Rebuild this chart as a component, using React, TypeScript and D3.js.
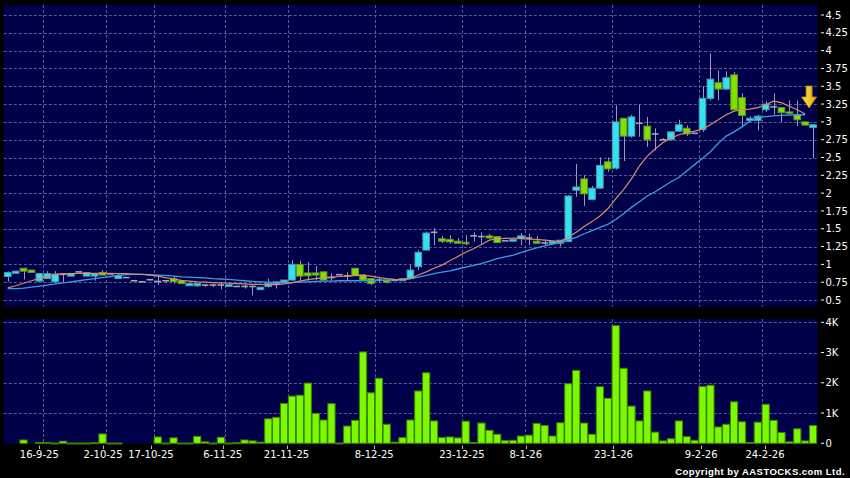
import React, { useEffect, useRef } from 'react';
import * as d3 from 'd3';

const W = 850;
const H = 478;

// OHLC per trading bar
const opens = [0.83,0.875,0.945,0.92,0.765,0.80,0.755,0.86,0.835,0.895,0.835,0.835,0.887,0.865,0.80,0.815,0.77,0.755,0.785,0.76,0.77,0.80,0.77,0.70,0.70,0.71,0.71,0.71,0.69,0.69,0.69,0.69,0.645,0.69,0.725,0.75,0.78,1.0,0.88,0.88,0.895,0.815,0.855,0.84,0.945,0.85,0.80,0.78,0.78,0.775,0.77,0.80,0.967,1.20,1.45,1.36,1.35,1.325,1.31,1.40,1.39,1.40,1.39,1.33,1.325,1.36,1.37,1.325,1.30,1.29,1.297,1.32,2.04,2.20,1.91,2.07,2.44,2.35,3.05,2.80,2.98,2.94,2.83,2.75,2.75,2.87,2.91,2.84,2.89,3.33,3.55,3.46,3.66,3.34,3.02,3.02,3.17,3.21,3.20,3.14,3.10,3.00,2.92];
const highs = [0.90,0.91,0.95,0.92,0.875,0.905,0.905,0.865,0.875,0.90,0.885,0.87,0.92,0.865,0.87,0.815,0.77,0.755,0.79,0.85,0.775,0.835,0.775,0.73,0.73,0.71,0.71,0.74,0.715,0.69,0.72,0.69,0.68,0.80,0.765,0.78,1.06,1.05,1.03,0.975,0.90,0.87,0.855,0.89,0.95,0.865,0.80,0.825,0.78,0.775,0.80,0.99,1.20,1.46,1.51,1.40,1.41,1.37,1.41,1.45,1.45,1.43,1.39,1.33,1.36,1.44,1.43,1.40,1.345,1.32,1.34,1.97,2.41,2.25,2.10,2.50,2.50,3.23,3.05,3.10,3.24,3.07,2.91,2.77,2.86,3.03,2.95,2.84,3.50,3.96,3.72,3.71,3.70,3.40,3.08,3.10,3.29,3.40,3.21,3.30,3.30,3.00,2.96];
const lows = [0.76,0.87,0.79,0.885,0.755,0.80,0.75,0.745,0.835,0.89,0.835,0.77,0.85,0.865,0.80,0.815,0.77,0.755,0.775,0.71,0.74,0.73,0.73,0.70,0.685,0.685,0.68,0.65,0.69,0.69,0.66,0.565,0.645,0.675,0.66,0.75,0.77,0.77,0.77,0.78,0.78,0.77,0.855,0.78,0.84,0.77,0.71,0.74,0.73,0.775,0.77,0.795,0.92,1.20,1.27,1.30,1.29,1.29,1.27,1.32,1.29,1.36,1.30,1.33,1.325,1.27,1.27,1.29,1.265,1.29,1.25,1.32,1.95,1.82,1.90,2.06,2.30,2.33,2.45,2.78,2.79,2.65,2.60,2.74,2.74,2.86,2.80,2.84,2.86,3.30,3.30,3.45,3.17,2.93,3.00,2.88,3.14,3.10,3.00,3.10,2.94,2.95,2.49];
const closes = [0.885,0.905,0.905,0.887,0.87,0.87,0.865,0.86,0.873,0.895,0.885,0.868,0.85,0.865,0.84,0.815,0.77,0.755,0.785,0.76,0.77,0.76,0.73,0.73,0.73,0.71,0.71,0.71,0.715,0.69,0.69,0.69,0.68,0.73,0.755,0.78,1.0,0.835,0.84,0.85,0.78,0.815,0.855,0.84,0.84,0.78,0.73,0.78,0.75,0.775,0.80,0.92,1.17,1.44,1.45,1.325,1.315,1.297,1.295,1.40,1.39,1.37,1.306,1.33,1.35,1.40,1.37,1.297,1.30,1.32,1.34,1.96,2.086,1.99,2.07,2.39,2.34,3.00,2.80,3.07,2.98,2.75,2.83,2.75,2.86,2.96,2.83,2.84,3.33,3.60,3.46,3.62,3.17,3.09,3.05,3.08,3.25,3.21,3.13,3.12,3.03,2.955,2.96];
// Volume in thousands
const volumes = [0,0,0.11,0,0.03,0.03,0.01,0.07,0.01,0.01,0.01,0.02,0.31,0.01,0.01,0,0,0,0,0.21,0.01,0.18,0.01,0.01,0.23,0.05,0.01,0.2,0.01,0.02,0.11,0.08,0.04,0.81,0.86,1.32,1.56,1.59,1.99,0.99,0.77,1.31,0.01,0.57,0.76,3.02,1.67,2.15,0.63,0.04,0.19,0.77,1.73,2.33,0.74,0.19,0.21,0.18,0.73,0.03,0.67,0.43,0.3,0.09,0.1,0.24,0.27,0.66,0.59,0.24,0.68,1.97,2.41,0.67,0.3,1.87,1.49,3.89,2.48,1.23,0.74,1.73,0.37,0.08,0.15,0.74,0.22,0.1,1.88,1.92,0.54,0.63,1.37,0.71,0.03,0.7,1.29,0.76,0.36,0.05,0.48,0.08,0.59];
// Moving averages (orange = short, blue = long)
const maShort = [0.67,0.70,0.735,0.77,0.80,0.83,0.855,0.87,0.87,0.875,0.875,0.875,0.875,0.875,0.87,0.87,0.865,0.86,0.85,0.835,0.815,0.795,0.775,0.765,0.755,0.75,0.745,0.74,0.735,0.73,0.725,0.72,0.72,0.715,0.715,0.725,0.745,0.765,0.785,0.80,0.81,0.82,0.83,0.835,0.845,0.85,0.835,0.815,0.80,0.79,0.785,0.80,0.85,0.895,0.945,0.99,1.05,1.11,1.17,1.22,1.28,1.34,1.36,1.365,1.37,1.365,1.355,1.35,1.34,1.33,1.32,1.385,1.45,1.53,1.60,1.68,1.78,1.92,2.05,2.20,2.38,2.52,2.62,2.71,2.77,2.82,2.85,2.87,2.90,2.96,3.03,3.10,3.15,3.17,3.18,3.20,3.24,3.29,3.27,3.22,3.17,3.11];
const maLong = [0.66,0.66,0.667,0.68,0.695,0.71,0.725,0.74,0.755,0.77,0.785,0.80,0.815,0.83,0.845,0.855,0.86,0.86,0.855,0.85,0.845,0.835,0.825,0.82,0.815,0.81,0.80,0.795,0.79,0.78,0.77,0.76,0.755,0.75,0.745,0.74,0.745,0.75,0.755,0.76,0.765,0.765,0.77,0.77,0.77,0.77,0.77,0.775,0.78,0.785,0.79,0.80,0.82,0.845,0.87,0.89,0.91,0.935,0.96,0.985,1.01,1.045,1.08,1.105,1.13,1.165,1.20,1.23,1.26,1.285,1.31,1.345,1.38,1.43,1.475,1.52,1.56,1.63,1.71,1.80,1.88,1.96,2.02,2.09,2.16,2.22,2.31,2.40,2.49,2.58,2.70,2.80,2.86,2.93,3.01,3.055,3.075,3.085,3.09,3.095,3.10,3.10];

const priceTicks = [0.5,0.75,1,1.25,1.5,1.75,2,2.25,2.5,2.75,3,3.25,3.5,3.75,4,4.25,4.5];
const priceLabels = ['0.5','0.75','1','1.25','1.5','1.75','2','2.25','2.5','2.75','3','3.25','3.5','3.75','4','4.25','4.5'];
const volTicks = [0,1,2,3,4];
const volLabels = ['0','1K','2K','3K','4K'];
const dateBars = [4,12,18,27,35,46,57,65,76,87,95];
const dateLabels = ['16-9-25','2-10-25','17-10-25','6-11-25','21-11-25','8-12-25','23-12-25','8-1-26','23-1-26','9-2-26','24-2-26'];
const arrowBar = 101.5;
const arrowPrice = 3.195;

export default function App() {
  const ref = useRef<SVGSVGElement>(null);

  useEffect(() => {
    const svg = d3.select(ref.current);
    svg.selectAll('*').remove();
    const N = opens.length;
    const idx = d3.range(N);
    const plotL = 3.8, plotR = 817.5;
    const mainTop = 5, mainBot = 306.7;
    const volTop = 319, volBot = 443.5;
    const font = "'DejaVu Sans', Verdana, sans-serif";

    const x = d3.scaleBand<number>().domain(idx).range([plotL, 817]);
    const step = x.step();
    const cx = (i: number) => (x(i) as number) + step / 2;
    const xTick = d3.scaleBand<number>().domain(idx).range([3.4, 824.8]);
    const tx = (i: number) => (xTick(i) as number) + xTick.step() / 2;
    const yP = d3.scaleLinear().domain([0.5, 4.5]).range([300, 15]);
    const yV = d3.scaleLinear().domain([0, 4]).range([443.3, 322.3]);

    svg.append('rect').attr('width', W).attr('height', H).attr('fill', '#000');
    svg.append('rect').attr('x', plotL).attr('y', mainTop).attr('width', plotR - plotL).attr('height', mainBot - mainTop).attr('fill', '#00004a');
    svg.append('rect').attr('x', plotL).attr('y', volTop).attr('width', plotR - plotL).attr('height', volBot - volTop).attr('fill', '#00004a');

    const gridColor = '#5a5a96';
    const grid = svg.append('g').attr('stroke', gridColor).attr('stroke-width', 1).attr('stroke-dasharray', '3,2');
    priceTicks.forEach((p) => {
      const yy = Math.round(yP(p)) + 0.5;
      grid.append('line').attr('x1', plotL).attr('x2', plotR).attr('y1', yy).attr('y2', yy);
    });
    volTicks.filter((v) => v > 0).forEach((v) => {
      const yy = Math.round(yV(v)) + 0.5;
      grid.append('line').attr('x1', plotL).attr('x2', plotR).attr('y1', yy).attr('y2', yy);
    });
    dateBars.forEach((b) => {
      const xx = Math.round((x(b) as number) + step) + 0.5;
      grid.append('line').attr('x1', xx).attr('x2', xx).attr('y1', mainTop).attr('y2', mainBot);
      grid.append('line').attr('x1', xx).attr('x2', xx).attr('y1', volTop).attr('y2', volBot);
    });

    // candles
    const bw = step * 0.84;
    const cg = svg.append('g');
    idx.forEach((i) => {
      const o = opens[i], c = closes[i], h = highs[i], l = lows[i];
      const xc = Math.round(cx(i)) + 0.5;
      cg.append('line').attr('x1', xc).attr('x2', xc).attr('y1', yP(h)).attr('y2', yP(l)).attr('stroke', '#9a9ab4').attr('stroke-width', 1);
      if (o === c) {
        cg.append('line').attr('x1', cx(i) - bw / 2).attr('x2', cx(i) + bw / 2).attr('y1', yP(c)).attr('y2', yP(c)).attr('stroke', '#a4a4bc').attr('stroke-width', 1.6);
      } else {
        const up = c > o;
        const top = yP(Math.max(o, c));
        const hgt = Math.max(1.5, yP(Math.min(o, c)) - top);
        cg.append('rect').attr('x', cx(i) - bw / 2).attr('y', top).attr('width', bw).attr('height', hgt)
          .attr('fill', up ? '#33e2f2' : '#80e000')
          .attr('stroke', up ? '#4f99a6' : '#5f9a24').attr('stroke-width', 1);
      }
    });

    // moving averages
    const lineGen = d3.line<number>().x((_, i) => cx(i)).y((d) => yP(d));
    svg.append('path').datum(maLong).attr('d', lineGen).attr('fill', 'none').attr('stroke', '#3a9ce6').attr('stroke-width', 1.3);
    svg.append('path').datum(maShort).attr('d', lineGen).attr('fill', 'none').attr('stroke', '#d88c6c').attr('stroke-width', 1.2);

    // volume bars
    const vw = step * 0.92;
    const vg = svg.append('g');
    idx.forEach((i) => {
      const v = volumes[i];
      if (v <= 0) return;
      const top = yV(v);
      vg.append('rect').attr('x', cx(i) - vw / 2).attr('y', top).attr('width', vw).attr('height', Math.max(1, yV(0) - top))
        .attr('fill', '#7cf800').attr('stroke', '#3e8000').attr('stroke-width', 1);
    });

    // right axes
    const ax = svg.append('g').attr('font-family', font).attr('font-size', 10).attr('fill', '#fff');
    priceTicks.forEach((p, k) => {
      const yy = yP(p);
      ax.append('line').attr('x1', 821).attr('x2', 824).attr('y1', yy).attr('y2', yy).attr('stroke', '#fff');
      ax.append('text').attr('x', 825.5).attr('y', yy).attr('dy', '0.36em').text(priceLabels[k]);
    });
    volTicks.forEach((v, k) => {
      const yy = yV(v);
      ax.append('line').attr('x1', 821).attr('x2', 824).attr('y1', yy).attr('y2', yy).attr('stroke', '#fff');
      ax.append('text').attr('x', 825.5).attr('y', yy).attr('dy', '0.36em').text(volLabels[k]);
    });

    // date axis
    dateBars.forEach((b, k) => {
      const xx = Math.round(tx(b)) + 0.5;
      ax.append('line').attr('x1', xx).attr('x2', xx).attr('y1', 445.5).attr('y2', 449).attr('stroke', '#bbb');
      ax.append('text').attr('x', tx(b)).attr('y', 457.5).attr('text-anchor', 'middle').text(dateLabels[k]);
    });

    svg.append('text').attr('x', 845).attr('y', 474.5).attr('text-anchor', 'end')
      .attr('font-family', "'Liberation Sans', Arial, sans-serif").attr('font-weight', 'bold')
      .attr('font-size', 9.5).attr('letter-spacing', 0.45).attr('fill', '#fff')
      .text('Copyright by AASTOCKS.com Ltd.');

    // arrow annotation
    const axc = cx(Math.floor(arrowBar)) + step * (arrowBar - Math.floor(arrowBar));
    const tipY = yP(arrowPrice);
    const defs = svg.append('defs');
    const grad = defs.append('linearGradient').attr('id', 'arrowGrad').attr('x1', 0).attr('x2', 1).attr('y1', 0).attr('y2', 0);
    grad.append('stop').attr('offset', '0%').attr('stop-color', '#ffe45a');
    grad.append('stop').attr('offset', '100%').attr('stop-color', '#e0a800');
    const pts: [number, number][] = [
      [axc - 3, tipY - 22], [axc + 3, tipY - 22], [axc + 3, tipY - 11], [axc + 7.5, tipY - 11],
      [axc, tipY], [axc - 7.5, tipY - 11], [axc - 3, tipY - 11],
    ];
    svg.append('path').attr('d', 'M' + pts.map((p) => p.join(',')).join('L') + 'Z')
      .attr('fill', 'url(#arrowGrad)').attr('stroke', '#b88a00').attr('stroke-width', 0.8);
  }, []);

  return (
    <div style={{ position: 'absolute', left: 0, top: 0, width: W, height: H, background: '#000' }}>
      <svg ref={ref} width={W} height={H} style={{ display: 'block' }} />
    </div>
  );
}
